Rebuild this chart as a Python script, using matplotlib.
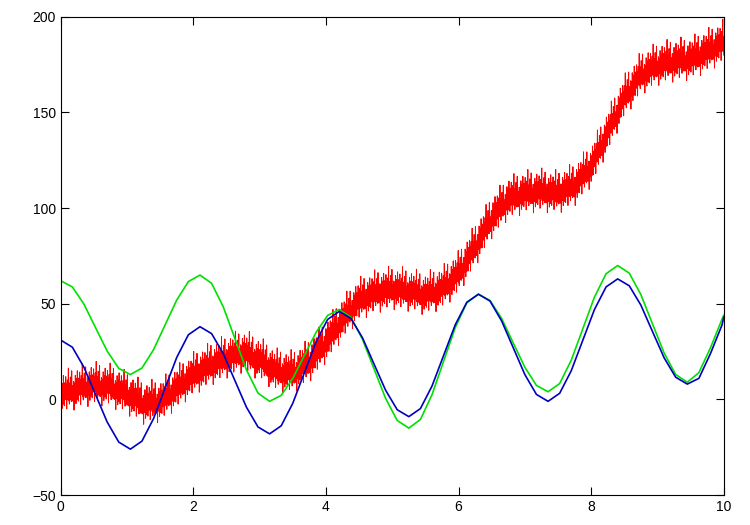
import matplotlib
matplotlib.use("Agg")
import matplotlib.pyplot as plt
import numpy as np

wave_x = [k * 0.175 for k in range(58)] + [10.0]
green_y = [62, 58.8, 49.8, 37.5, 25.3, 16.2, 13,
           16.4, 26, 39, 52, 61.6, 65,
           60.7, 48.5, 32, 15.5, 3.3, -1,
           2.1, 11, 23, 35, 43.9, 47,
           43, 31.5, 16, 0.5, -11, -15,
           -10.5, 2.5, 20, 37.5, 50.5, 55,
           51.7, 42.3, 29.5, 16.8, 7.3, 4,
           8.3, 20.5, 37, 53.5, 65.7, 70,
           66, 54.8, 39.5, 24.3, 13, 9,
           14, 27, 42, 44]
blue_y = [31, 27.3, 16.8, 2.5, -11.8, -22.3, -26,
          -21.8, -10, 6, 22, 33.8, 38,
          34.4, 24, 10, -4, -14.4, -18,
          -13.8, -2, 14, 30, 41.8, 46,
          42.4, 32.3, 18.5, 4.8, -5.4, -9,
          -4.8, 7, 23, 39, 50.8, 55,
          51.4, 41, 27, 13, 2.6, -1,
          3.2, 15, 31, 47, 58.8, 63,
          59.4, 49.3, 35.5, 21.8, 11.6, 8,
          11, 24, 39, 43]

# noisy red series: trend every 0.25 plus a hand-read jitter pattern
trend_x = [i * 0.25 for i in range(41)]
trend_y = [3, 6, 8, 7, 3, -2, -1, 6, 13, 18, 22, 25, 21, 15, 14, 20, 30, 42,
           52, 56, 58, 57, 55, 58, 66, 80, 95, 105, 108, 109, 108, 112, 122,
           140, 158, 170, 175, 177, 178, 182, 187]
jitter = [3, -5, 7, -2, -8, 5, 1, -6, 9, -3, 2, -7, 5, -1, -4, 8, -2, 4,
          -9, 2, 6, -4, 0, 12, -5, 3, -7, 4, -2, 7, -5, 1, -6, 10, -3, 2, -6,
          1, -2, 4, -11, 3]

red_x = np.linspace(0, 10, 2001)
red_y = np.interp(red_x, trend_x, trend_y) + np.resize(jitter, red_x.size)

plt.rcParams['font.family'] = ['Liberation Sans', 'DejaVu Sans']
fig = plt.figure(figsize=(7.5, 5.25), dpi=100)
ax = fig.add_axes([0.081, 0.057, 0.884, 0.911])

ax.plot(red_x, red_y, color='#ff0000', linewidth=0.7)
ax.plot(wave_x, green_y, color='#00e000', linewidth=1.2)
ax.plot(wave_x, blue_y, color='#0000c0', linewidth=1.2)

ax.set_xlim(0, 10)
ax.set_ylim(-50, 200)
ax.set_xticks([0, 2, 4, 6, 8, 10])
ax.set_yticks([-50, 0, 50, 100, 150, 200])
ax.tick_params(direction='in', top=True, right=True, labelsize=10, length=6)
for s in ax.spines.values():
    s.set_linewidth(0.8)

fig.savefig("out.png", dpi=100)
